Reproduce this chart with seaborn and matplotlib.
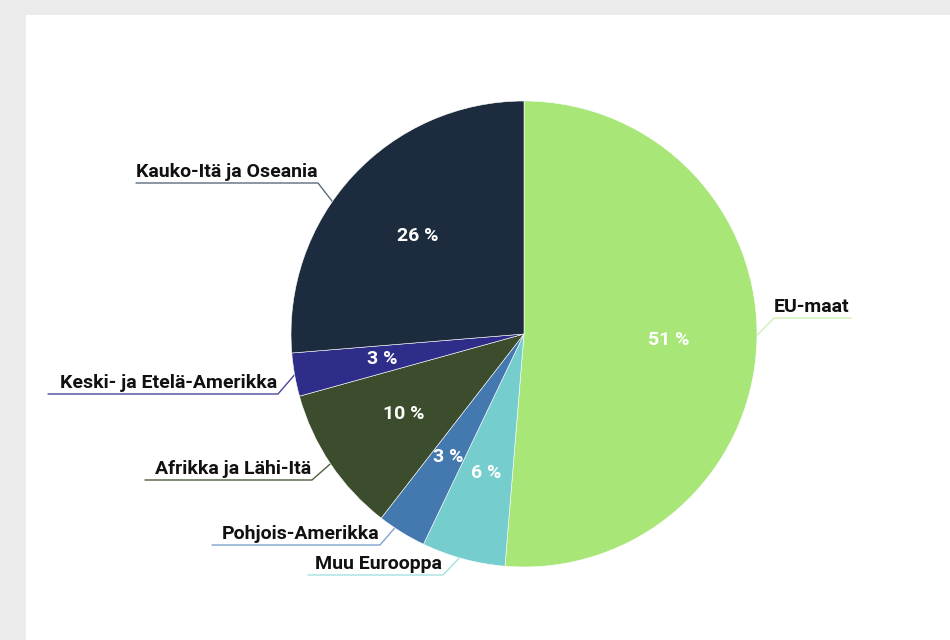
import numpy as np
import matplotlib.pyplot as plt
import seaborn as sns
from matplotlib.patches import Rectangle

sns.set_theme(style='white')
plt.rcParams['font.family'] = ['Roboto', 'DejaVu Sans']

# ---- data ----
regions = ['EU-maat', 'Muu Eurooppa', 'Pohjois-Amerikka', 'Afrikka ja Lähi-Itä',
           'Keski- ja Etelä-Amerikka', 'Kauko-Itä ja Oseania']
shares = [51.3, 5.8, 3.4, 10.2, 3.0, 26.3]
colors = ['#a8e678', '#76cdce', '#4479b0', '#3b4d2c', '#2e2e8a', '#1c2b3d']
line_colors = ['#cdf0b2', '#a6e0e0', '#7fa3cc', '#4d5e3e', '#4848a0', '#5d6c7c']

# label layout in image pixels: underline start x, underline end x near pie, underline y
label_left = [774, 308, 212, 145, 48, 136]
label_right = [851, 443, 380, 312, 278, 318]
label_y = [318, 575, 545, 480, 394, 183]
# small shift (degrees) of where the connector meets the pie edge
conn_shift = [2, -1, -2, 0, 0, 8]

W, H = 950, 640
cx, cy, R = 524, 334, 233


def fy(y):
    # image y (top-down) -> data y
    return H - y


fig = plt.figure(figsize=(9.5, 6.4), dpi=100, facecolor='#ebebeb')
ax = fig.add_axes([0, 0, 1, 1])
ax.add_patch(Rectangle((26, 0), W - 26, H - 15, facecolor='white', edgecolor='none', zorder=0))

wedges, _ = ax.pie(shares, colors=colors, startangle=90, counterclock=False,
                   radius=R, center=(cx, fy(cy)),
                   wedgeprops=dict(edgecolor='white', linewidth=0.4))
for w in wedges:
    w.set_zorder(2)

ax.set_xlim(0, W)
ax.set_ylim(0, H)
ax.set_aspect('equal')
ax.axis('off')

for i, w in enumerate(wedges):
    mid_deg = (w.theta1 + w.theta2) / 2
    mid = np.deg2rad(mid_deg)
    # percentage label inside
    r_in = 0.62 * R
    ax.text(cx + r_in * np.cos(mid), fy(cy) + r_in * np.sin(mid), f'{round(shares[i])} %',
            ha='center', va='center', color='white', fontsize=14, fontweight='bold', zorder=3)
    # connector from wedge edge to underline
    ca = np.deg2rad(mid_deg + conn_shift[i])
    ex, ey = cx + R * np.cos(ca), fy(cy) + R * np.sin(ca)
    uy = fy(label_y[i])
    if ex > cx:
        xs = [ex, label_left[i], label_right[i]]
        tx, ha = label_left[i], 'left'
    else:
        xs = [ex, label_right[i], label_left[i]]
        tx, ha = label_right[i] - 1, 'right'
    ax.plot(xs, [ey, uy, uy], color=line_colors[i], lw=1, zorder=1)
    ax.text(tx, uy + 6, regions[i], ha=ha, va='baseline', fontsize=14,
            fontweight='bold', color='#111111', zorder=3)

fig.savefig('out.png', dpi=100, facecolor=fig.get_facecolor())
